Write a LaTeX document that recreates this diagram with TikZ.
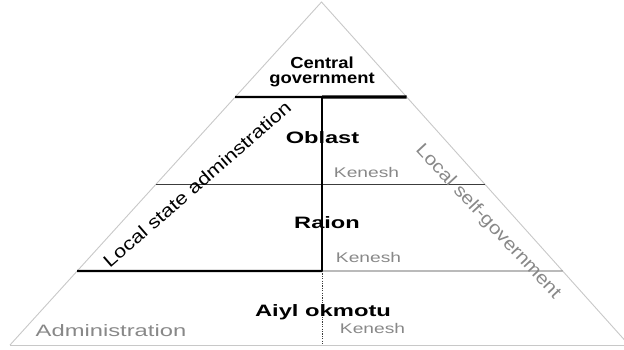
\documentclass[tikz,border=0pt]{standalone}
\usepackage{fontspec}
\setmainfont{Liberation Sans}
\usepackage{graphicx}
\usetikzlibrary{calc}
\definecolor{txtgray}{RGB}{136,136,136}
\definecolor{edgegray}{RGB}{200,200,200}
\definecolor{linegray}{RGB}{60,60,60}
\begin{document}
\begin{tikzpicture}[x=1pt,y=-1pt,
  edge/.style={draw=edgegray,line width=0.9pt},
  thinline/.style={draw=linegray,line width=0.9pt},
  heavyline/.style={draw=black,line width=2.2pt},
  heavierline/.style={draw=black,line width=3.2pt},
  dotline/.style={draw=linegray,line width=0.7pt,dash pattern=on 1.2pt off 1.2pt},
  level/.style={inner sep=0pt,anchor=base,font=\fontsize{16.5}{19}\selectfont\bfseries},
  kenesh/.style={inner sep=0pt,anchor=base,text=txtgray,font=\fontsize{14}{16}\selectfont},
  side/.style={inner sep=0pt,anchor=center,font=\fontsize{18}{20}\selectfont}]
\useasboundingbox (0,0) rectangle (624,350);
\clip (0,0) rectangle (624,350);
% triangle
\coordinate (apex) at (321.5,2);
\coordinate (bl) at (10,345);
\coordinate (br) at (629,345);
\draw[edge] (bl) -- (apex) -- (br);
\draw[edge] (bl) -- (br);
% level points on edges
\coordinate (l1) at ($(apex)!0.277!(bl)$);
\coordinate (r1) at ($(apex)!0.277!(br)$);
\coordinate (l2) at ($(apex)!0.5306!(bl)$);
\coordinate (r2) at ($(apex)!0.5306!(br)$);
\coordinate (l3) at ($(apex)!0.7843!(bl)$);
\coordinate (r3) at ($(apex)!0.7843!(br)$);
\coordinate (m1) at (322,97);
\coordinate (m3) at (322,271);
\coordinate (m4) at (322,345);
% horizontal lines
\draw[thinline] (l2) -- (r2);
\draw[thinline] (m3) -- (r3);
\draw[heavyline] (l1) -- (m1);
\draw[heavierline] (m1) -- (r1);
\draw[heavyline] (l3) -- (m3);
% vertical line
\draw[heavyline] (m1) -- (m3);
\draw[dotline] (m3) -- (m4);
% texts
\node[inner sep=0pt,align=center,font=\fontsize{16}{15}\selectfont\bfseries] (central) at (322,71.4)
  {\scalebox{1.15}[1]{Central}\\\scalebox{1.15}[1]{government}};
\node[level] (oblast) at (322.5,144) {\scalebox{1.43}[1]{Oblast}};
\node[level] (raion) at (327,228) {\scalebox{1.43}[1]{Raion}};
\node[level] (aiyl) at (323,316) {\scalebox{1.44}[1]{Aiyl okmotu}};
\node[kenesh] (k1) at (366.5,177.5) {\scalebox{1.37}[1]{Kenesh}};
\node[kenesh] (k2) at (368.5,262) {\scalebox{1.37}[1]{Kenesh}};
\node[kenesh] (k3) at (372.5,333) {\scalebox{1.37}[1]{Kenesh}};
\node[inner sep=0pt,anchor=base,text=txtgray,font=\fontsize{16.5}{19}\selectfont] (admin) at (111,336)
  {\scalebox{1.44}[1]{Administration}};
\node[side,rotate=41] (lsa) at (197,184) {\scalebox{1.21}[1]{Local state adminstration}};
\node[side,rotate=-47,text=txtgray] (lsg) at (488,222) {\scalebox{1.15}[1]{Local self-government}};
\end{tikzpicture}
\end{document}
